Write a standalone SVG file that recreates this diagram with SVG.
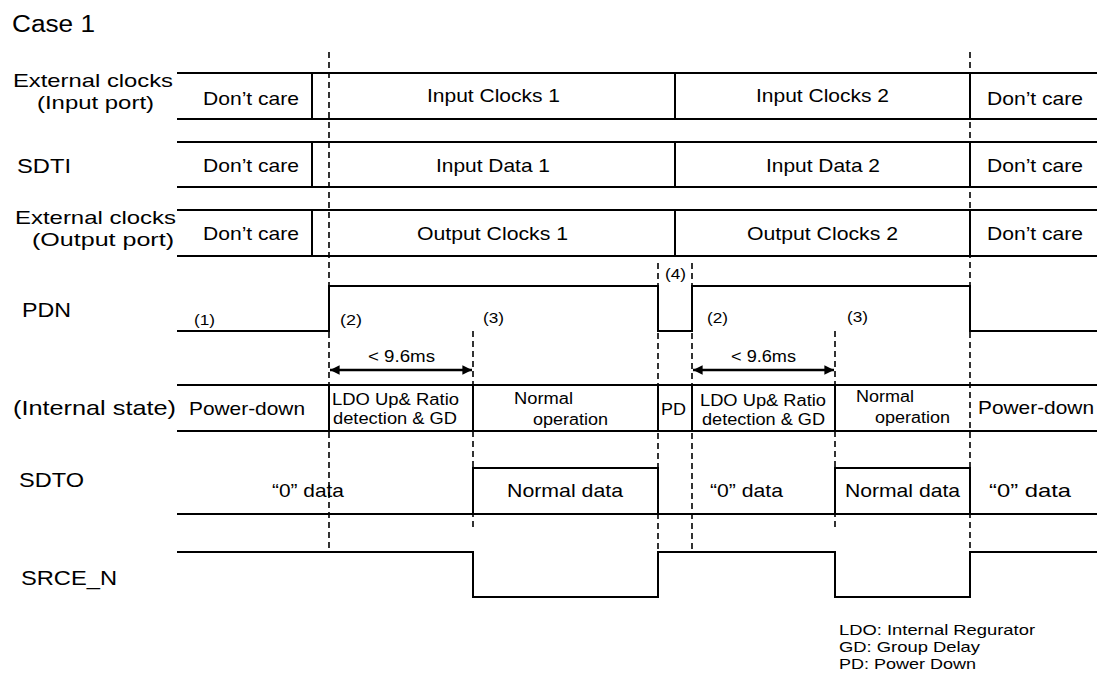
<svg xmlns="http://www.w3.org/2000/svg" width="1097" height="682" viewBox="0 0 1097 682">
<style>
text{font-family:"Liberation Sans",Arial,sans-serif;fill:#000}
.lbl{font-size:21px}
.lbl2{font-size:19px}
.cell{font-size:18.5px}
.st{font-size:16px}
.num{font-size:15.5px}
.leg{font-size:15px}
.ln{stroke:#000;stroke-width:2;fill:none}
.sep{stroke:#000;stroke-width:2}
.dash{stroke:#000;stroke-width:1.6;stroke-dasharray:6 4;fill:none}
.arr{stroke:#000;stroke-width:2.4;fill:none}
</style>
<defs>
<marker id="ah" viewBox="0 0 10 10" refX="10" refY="5" markerWidth="4.5" markerHeight="4" orient="auto-start-reverse" markerUnits="strokeWidth">
<path d="M0,0 L10,5 L0,10 Z" fill="#000"/>
</marker>
</defs>
<rect width="1097" height="682" fill="#fff"/>
<text id="title" x="12" y="32" font-size="23" textLength="83" lengthAdjust="spacingAndGlyphs">Case 1</text>

<g id="ext-in">
<text class="lbl2" x="13" y="87" textLength="160" lengthAdjust="spacingAndGlyphs">External clocks</text>
<text class="lbl2" x="37" y="108.5" textLength="117" lengthAdjust="spacingAndGlyphs">(Input port)</text>
<path class="ln" d="M177,73 H1097 M177,119 H1097"/>
<path class="sep" d="M312,73 V119 M675,73 V119 M970,73 V119"/>
<text class="cell" x="203" y="104.5" textLength="96" lengthAdjust="spacingAndGlyphs">Don’t care</text>
<text class="cell" x="427" y="102" textLength="133" lengthAdjust="spacingAndGlyphs">Input Clocks 1</text>
<text class="cell" x="756" y="102" textLength="133" lengthAdjust="spacingAndGlyphs">Input Clocks 2</text>
<text class="cell" x="987" y="104.5" textLength="96" lengthAdjust="spacingAndGlyphs">Don’t care</text>
</g>

<g id="sdti">
<text class="lbl" x="17" y="173" textLength="54" lengthAdjust="spacingAndGlyphs">SDTI</text>
<path class="ln" d="M177,142 H1097 M177,187 H1097"/>
<path class="sep" d="M312,142 V187 M675,142 V187 M970,142 V187"/>
<text class="cell" x="203" y="172" textLength="96" lengthAdjust="spacingAndGlyphs">Don’t care</text>
<text class="cell" x="436" y="172" textLength="114" lengthAdjust="spacingAndGlyphs">Input Data 1</text>
<text class="cell" x="766" y="172" textLength="114" lengthAdjust="spacingAndGlyphs">Input Data 2</text>
<text class="cell" x="987" y="172" textLength="96" lengthAdjust="spacingAndGlyphs">Don’t care</text>
</g>

<g id="ext-out">
<text class="lbl2" x="15" y="224" textLength="161" lengthAdjust="spacingAndGlyphs">External clocks</text>
<text class="lbl2" x="32" y="245.5" textLength="142" lengthAdjust="spacingAndGlyphs">(Output port)</text>
<path class="ln" d="M177,210 H1097 M177,256 H1097"/>
<path class="sep" d="M312,210 V256 M675,210 V256 M970,210 V256"/>
<text class="cell" x="203" y="240" textLength="96" lengthAdjust="spacingAndGlyphs">Don’t care</text>
<text class="cell" x="417" y="240" textLength="151" lengthAdjust="spacingAndGlyphs">Output Clocks 1</text>
<text class="cell" x="747" y="240" textLength="151" lengthAdjust="spacingAndGlyphs">Output Clocks 2</text>
<text class="cell" x="987" y="240" textLength="96" lengthAdjust="spacingAndGlyphs">Don’t care</text>
</g>

<g id="pdn">
<text class="lbl" x="22" y="317" textLength="49" lengthAdjust="spacingAndGlyphs">PDN</text>
<path class="ln" d="M177,331 H329 V286 H658 V331 H692 V286 H970 V331 H1097"/>
<text class="num" x="194" y="325" textLength="21" lengthAdjust="spacingAndGlyphs">(1)</text>
<text class="num" x="340" y="325" textLength="22" lengthAdjust="spacingAndGlyphs">(2)</text>
<text class="num" x="483" y="323" textLength="21" lengthAdjust="spacingAndGlyphs">(3)</text>
<text class="num" x="665" y="279" textLength="21" lengthAdjust="spacingAndGlyphs">(4)</text>
<text class="num" x="707" y="323" textLength="21" lengthAdjust="spacingAndGlyphs">(2)</text>
<text class="num" x="847" y="322" textLength="21" lengthAdjust="spacingAndGlyphs">(3)</text>
</g>

<g id="internal-state">
<text class="lbl" x="13" y="415" textLength="163" lengthAdjust="spacingAndGlyphs">(Internal state)</text>
<path class="ln" d="M177,385 H1097 M177,431 H1097"/>
<path class="sep" d="M329,385 V431 M473,385 V431 M658,385 V431 M692,385 V431 M835,385 V431"/>
<text class="cell" x="189" y="415" textLength="116" lengthAdjust="spacingAndGlyphs">Power-down</text>
<text class="st" x="332" y="405" textLength="127" lengthAdjust="spacingAndGlyphs">LDO Up&amp; Ratio</text>
<text class="st" x="333" y="424" textLength="124" lengthAdjust="spacingAndGlyphs">detection &amp; GD</text>
<text class="st" x="514" y="404" textLength="59" lengthAdjust="spacingAndGlyphs">Normal</text>
<text class="st" x="533" y="425" textLength="75" lengthAdjust="spacingAndGlyphs">operation</text>
<text class="st" x="661" y="415" textLength="25" lengthAdjust="spacingAndGlyphs">PD</text>
<text class="st" x="700" y="406" textLength="126" lengthAdjust="spacingAndGlyphs">LDO Up&amp; Ratio</text>
<text class="st" x="702" y="425" textLength="123" lengthAdjust="spacingAndGlyphs">detection &amp; GD</text>
<text class="st" x="856" y="402" textLength="58" lengthAdjust="spacingAndGlyphs">Normal</text>
<text class="st" x="875" y="423" textLength="75" lengthAdjust="spacingAndGlyphs">operation</text>
<text class="cell" x="978" y="414" textLength="116" lengthAdjust="spacingAndGlyphs">Power-down</text>
</g>

<g id="sdto">
<text class="lbl" x="19" y="487" textLength="65" lengthAdjust="spacingAndGlyphs">SDTO</text>
<path class="ln" d="M177,514 H1097 M473,514 V468 H658 V514 M835,514 V468 H970 V514"/>
<text class="cell" x="272" y="497" textLength="72" lengthAdjust="spacingAndGlyphs">“0” data</text>
<text class="cell" x="507" y="497" textLength="116" lengthAdjust="spacingAndGlyphs">Normal data</text>
<text class="cell" x="710" y="497" textLength="73" lengthAdjust="spacingAndGlyphs">“0” data</text>
<text class="cell" x="845" y="497" textLength="115" lengthAdjust="spacingAndGlyphs">Normal data</text>
<text class="cell" x="989" y="497" textLength="82" lengthAdjust="spacingAndGlyphs">“0” data</text>
</g>

<g id="srce-n">
<text class="lbl" x="21" y="585" textLength="96" lengthAdjust="spacingAndGlyphs">SRCE_N</text>
<path class="ln" d="M177,552 H473 V597 H658 V552 H835 V597 H970 V552 H1097"/>
</g>

<g id="connectors">
<path class="dash" d="M329,52 V552"/>
<path class="dash" d="M473,331 V528"/>
<path class="dash" d="M658,263 V552"/>
<path class="dash" d="M692,263 V549"/>
<path class="dash" d="M835,331 V528"/>
<path class="dash" d="M970,52 V552"/>
<path class="arr" d="M330,370 H472" marker-start="url(#ah)" marker-end="url(#ah)"/>
<path class="arr" d="M693,370 H834" marker-start="url(#ah)" marker-end="url(#ah)"/>
<text class="st" x="368" y="362" textLength="67" lengthAdjust="spacingAndGlyphs">&lt; 9.6ms</text>
<text class="st" x="731" y="362" textLength="65" lengthAdjust="spacingAndGlyphs">&lt; 9.6ms</text>
</g>

<g id="legend">
<text class="leg" x="839" y="635" textLength="196" lengthAdjust="spacingAndGlyphs">LDO: Internal Regurator</text>
<text class="leg" x="839" y="652" textLength="141" lengthAdjust="spacingAndGlyphs">GD: Group Delay</text>
<text class="leg" x="839" y="669" textLength="137" lengthAdjust="spacingAndGlyphs">PD: Power Down</text>
</g>
</svg>
